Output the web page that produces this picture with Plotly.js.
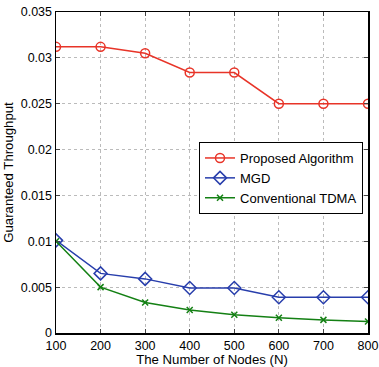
<!DOCTYPE html>
<html><head><meta charset="utf-8">
<script src="https://cdn.plot.ly/plotly-3.0.1.min.js"></script>
<style>html,body{margin:0;padding:0;background:#fff}#c{width:379px;height:367px}</style>
</head><body><div id="c"></div>
<script>
var nodes = [100, 200, 300, 400, 500, 600, 700, 800];
var proposed = [0.0312, 0.0312, 0.0305, 0.0284, 0.0284, 0.0250, 0.0250, 0.0250];
var mgd = [0.0101, 0.0065, 0.0059, 0.0049, 0.0049, 0.0039, 0.0039, 0.0039];
var tdma = [0.0100, 0.0050, 0.00333, 0.0025, 0.0020, 0.00167, 0.00143, 0.00125];
var names = ['Proposed Algorithm', 'MGD', 'Conventional TDMA'];
var yticks = [0, 0.005, 0.01, 0.015, 0.02, 0.025, 0.03, 0.035];
var yticktext = ['0', '0.005', '0.01', '0.015', '0.02', '0.025', '0.03', '0.035'];

var traces = [
  {x: nodes, y: proposed, name: names[0], mode: 'lines+markers',
   line: {color: 'rgb(232,52,40)', width: 1.5},
   marker: {symbol: 'circle-open', size: 9, color: 'rgb(232,52,40)', line: {width: 1.5}}},
  {x: nodes, y: mgd, name: names[1], mode: 'lines+markers',
   line: {color: 'rgb(40,62,172)', width: 1.5},
   marker: {symbol: 'diamond-open', size: 10, color: 'rgb(40,62,172)', line: {width: 1.5}}},
  {x: nodes, y: tdma, name: names[2], mode: 'lines+markers',
   line: {color: 'rgb(20,128,20)', width: 1.5},
   marker: {symbol: 'x-thin-open', size: 6, color: 'rgb(20,128,20)', line: {width: 1.5, color: 'rgb(20,128,20)'}}}
];

var fam = 'Liberation Sans, Arial, sans-serif';
var tickFont = {family: fam, size: 12.5, color: '#000'};
var titleFont = {family: fam, size: 13.2, color: '#000'};
var layout = {
  width: 379, height: 367,
  margin: {l: 56, r: 11, t: 12, b: 34},
  paper_bgcolor: '#fff', plot_bgcolor: '#fff',
  font: tickFont,
  showlegend: true,
  legend: {x: 0.984, y: 0.595, xanchor: 'right', yanchor: 'top',
           bgcolor: '#fff', bordercolor: '#000', borderwidth: 1,
           font: {family: fam, size: 13, color: '#000'},
           tracegroupgap: 0, itemwidth: 30},
  xaxis: {range: [100, 800], tickvals: nodes, ticks: 'inside', ticklen: 4,
          showline: true, linecolor: '#000', linewidth: 1.5, mirror: 'ticks',
          showgrid: true, gridcolor: '#bbb', griddash: 'dot', gridwidth: 1,
          zeroline: false, tickfont: tickFont,
          title: {text: 'The Number of Nodes (N)', font: titleFont, standoff: 0}},
  yaxis: {range: [0, 0.035], tickvals: yticks, ticktext: yticktext, ticks: 'inside', ticklen: 4,
          showline: true, linecolor: '#000', linewidth: 1.5, mirror: 'ticks',
          showgrid: true, gridcolor: '#bbb', griddash: 'dot', gridwidth: 1,
          zeroline: false, tickfont: tickFont,
          title: {text: 'Guaranteed Throughput', font: titleFont, standoff: 4}}
};
Plotly.newPlot('c', traces, layout, {displayModeBar: false, staticPlot: true});
</script></body></html>
